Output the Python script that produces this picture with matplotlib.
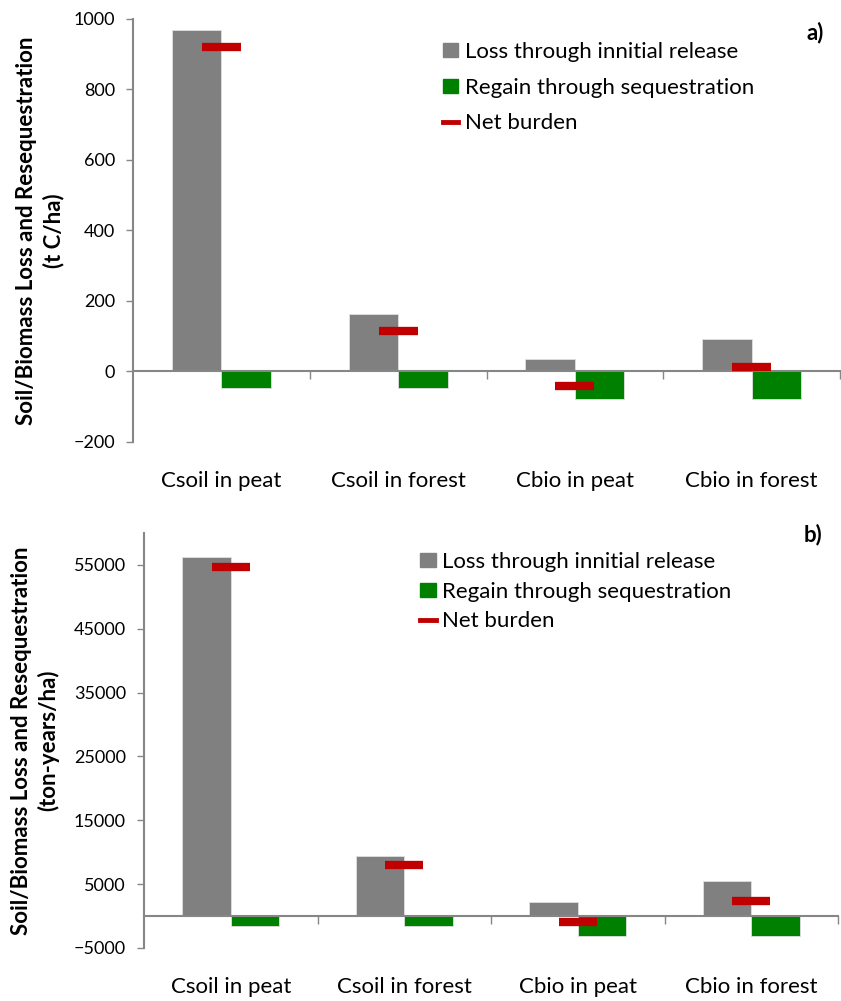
import numpy as np
import matplotlib
matplotlib.use("Agg")
import matplotlib.pyplot as plt
from matplotlib.lines import Line2D
from matplotlib.patches import Patch

plt.rcParams['font.family'] = ['Lato', 'DejaVu Sans']

categories = ["Csoil in peat", "Csoil in forest", "Cbio in peat", "Cbio in forest"]
series_names = ["Loss through innitial release", "Regain through sequestration", "Net burden"]

# panel a) t C/ha
loss_a = [969, 163, 35, 91]
regain_a = [-48, -48, -77, -77]
net_a = [921, 115, -42, 14]

# panel b) ton-years/ha
loss_b = [56200, 9470, 2190, 5520]
regain_b = [-1500, -1500, -3080, -3080]
net_b = [54700, 8000, -1000, 2300]

GRAY = "#808080"
GREEN = "#008000"
RED = "#c00000"
AXCOL = "#868686"


def panel(ax, loss, regain, net, yticks, ylim, ylabel, lab_x, leg_anchor, leg_spacing):
    x = np.arange(len(categories))
    w = 0.28
    ax.bar(x - w, loss, w, align='edge', color=GRAY, edgecolor='#e0e0e0', linewidth=0.6, zorder=2)
    ax.bar(x, regain, w, align='edge', color=GREEN, edgecolor='#e0e0e0', linewidth=0.6, zorder=2)
    ax.hlines(net, x - 0.11, x + 0.11, color=RED, lw=6, zorder=3)

    ax.set_xlim(-0.5, 3.5)
    ax.set_ylim(*ylim)
    ax.set_yticks(yticks)
    ax.set_xticks([0.5, 1.5, 2.5, 3.5])
    ax.set_xticklabels([])
    for s in ['top', 'right']:
        ax.spines[s].set_visible(False)
    ax.spines['left'].set_color(AXCOL)
    ax.spines['bottom'].set_color(AXCOL)
    ax.spines['left'].set_linewidth(1.5)
    ax.spines['bottom'].set_linewidth(1.5)
    ax.spines['bottom'].set_position(('data', 0))
    ax.tick_params(axis='y', direction='out', length=5, width=1, color=AXCOL, labelsize=13, pad=8)
    ax.tick_params(axis='x', direction='out', length=6, width=1, color=AXCOL)

    for i, c in enumerate(categories):
        ax.annotate(c, xy=(i, 0), xycoords=('data', 'axes fraction'), xytext=(0, -28),
                    textcoords='offset points', ha='center', va='center', fontsize=16)

    ax.set_ylabel(ylabel, fontweight='bold', fontsize=16, linespacing=1.3)
    ax.yaxis.label.set_va('center')
    ax.yaxis.set_label_coords(lab_x, 0.5)

    handles = [Patch(color=GRAY), Patch(color=GREEN), Line2D([], [], color=RED, lw=3.5)]
    ax.legend(handles, series_names, loc='upper left', bbox_to_anchor=leg_anchor, frameon=False,
              fontsize=16, handlelength=0.7, handleheight=0.6, handletextpad=0.3,
              labelspacing=leg_spacing, borderpad=0, borderaxespad=0)


fig = plt.figure(figsize=(8.41, 10.01), dpi=100)
ax1 = fig.add_axes([133 / 841, 1 - 442 / 1001, 707 / 841, 423 / 1001])
ax2 = fig.add_axes([144 / 841, 1 - 948 / 1001, 694 / 841, 415 / 1001])

panel(ax1, loss_a, regain_a, net_a, [-200, 0, 200, 400, 600, 800, 1000], (-200, 1000),
      "Soil/Biomass Loss and Resequestration\n(t C/ha)", -0.1315, (0.438, 0.945), 0.7)
panel(ax2, loss_b, regain_b, net_b, [-5000, 5000, 15000, 25000, 35000, 45000, 55000], (-5000, 60000),
      "Soil/Biomass Loss and Resequestration\n(ton-years/ha)", -0.157, (0.398, 0.954), 0.43)

fig.text(815 / 841, 1 - 33 / 1001, "a)", fontweight='bold', fontsize=16, ha='center', va='center')
fig.text(813 / 841, 1 - 535 / 1001, "b)", fontweight='bold', fontsize=16, ha='center', va='center')

fig.savefig("out.png", dpi=100)
